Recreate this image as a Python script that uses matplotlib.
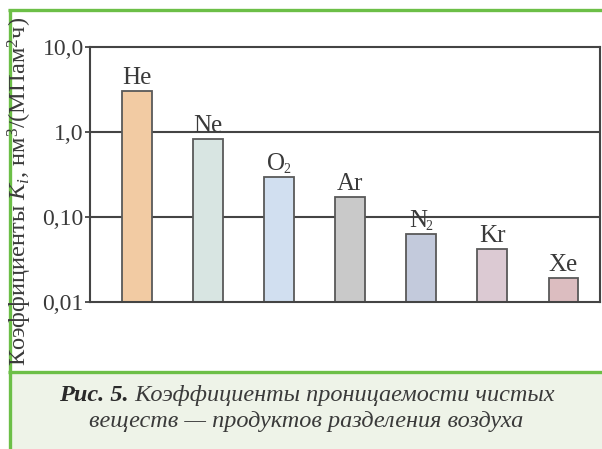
import matplotlib
matplotlib.use("Agg")
import matplotlib.pyplot as plt
from matplotlib.patches import Rectangle
from matplotlib.lines import Line2D
from matplotlib.transforms import offset_copy
import numpy as np

plt.rcParams['font.family'] = ['Liberation Serif', 'DejaVu Serif']
plt.rcParams['mathtext.fontset'] = 'custom'
plt.rcParams['mathtext.rm'] = 'Liberation Serif'
plt.rcParams['mathtext.it'] = 'Liberation Serif:italic'
plt.rcParams['mathtext.bf'] = 'Liberation Serif:bold'

# Permeability coefficients of pure gases
gases = ['He', 'Ne', 'O', 'Ar', 'N', 'Kr', 'Xe']
gas_subscripts = ['', '', '2', '', '2', '', '']
permeability = [3.05, 0.83, 0.295, 0.173, 0.063, 0.042, 0.0193]
bar_colors = ['#f2cba3', '#d8e5e2', '#d1dff0', '#c9c9c9', '#c3cadc', '#dccad3', '#dcbdc0']
ytick_values = [0.01, 0.1, 1.0, 10.0]
ytick_labels = ['0,01', '0,10', '1,0', '10,0']
ylabel = 'Коэффициенты $K_i$, нм$^3$/(МПам$^2$ч)'
caption_bold = 'Рис. 5.'
caption_line1 = ' Коэффициенты проницаемости чистых'
caption_line2 = 'веществ — продуктов разделения воздуха'

W, H = 602, 449
fig = plt.figure(figsize=(W / 100, H / 100), dpi=100)
fig.patch.set_facecolor('white')

def fx(x):
    return x / W

def fy(y):
    return 1 - y / H

green = '#6cbf47'
ink = '#3a3a3a'
line_col = '#444444'

# caption panel and green frame
fig.add_artist(Rectangle((fx(10), 0), 1, fy(372), transform=fig.transFigure,
                         facecolor='#eef3e8', edgecolor='none', zorder=0))
fig.add_artist(Line2D([fx(8), 1], [fy(10), fy(10)], transform=fig.transFigure,
                      color=green, lw=2.4, solid_capstyle='butt'))
fig.add_artist(Line2D([fx(9.5), fx(9.5)], [0, fy(9)], transform=fig.transFigure,
                      color=green, lw=2.4, solid_capstyle='butt'))
fig.add_artist(Line2D([fx(8), 1], [fy(371.5), fy(371.5)], transform=fig.transFigure,
                      color=green, lw=2.4, solid_capstyle='butt'))

ax = fig.add_axes([fx(90), fy(302), fx(600) - fx(90), fy(47) - fy(302)])
ax.set_facecolor('none')
x = np.arange(len(gases))
ax.set_yscale('log')
ax.set_ylim(0.01, 10)
ax.set_xlim(-0.661, 6.514)

for yv in [0.1, 1.0]:
    ax.axhline(yv, color=line_col, lw=1.5, zorder=1)

ax.bar(x, permeability, width=0.42, bottom=0.0001, color=bar_colors,
       edgecolor='#595959', linewidth=1.3, zorder=2)

ax.set_yticks(ytick_values)
ax.set_yticklabels(ytick_labels)
ax.yaxis.set_minor_locator(matplotlib.ticker.NullLocator())
ax.set_xticks([])
ax.tick_params(axis='y', length=3.5, width=1.3, color=line_col, pad=1,
               labelsize=17, labelcolor=ink)
for s in ax.spines.values():
    s.set_color(line_col)
    s.set_linewidth(1.5)

fig.text(fx(20), fy(191), ylabel, rotation=90, ha='center', va='center',
         fontsize=17.6, color=ink)

fig.canvas.draw()
r = fig.canvas.get_renderer()

# gas names above the bars, with small subscripts
label_size = 18
sub_size = 10
for xi, v, name, sub in zip(x, permeability, gases, gas_subscripts):
    base = ax.text(xi, v, name, ha='left', va='baseline', fontsize=label_size,
                   color=ink, zorder=3)
    wb = base.get_window_extent(r).width
    ws = 0.0
    if sub:
        tmp = ax.text(0, 0, sub, fontsize=sub_size)
        ws = tmp.get_window_extent(r).width
        tmp.remove()
    total = wb + ws
    base.set_transform(offset_copy(ax.transData, fig=fig, x=-total / 2,
                                   y=7, units='dots'))
    if sub:
        ax.text(xi, v, sub, ha='left', va='baseline', fontsize=sub_size,
                color=ink, zorder=3,
                transform=offset_copy(ax.transData, fig=fig,
                                      x=-total / 2 + wb - 1, y=4, units='dots'))

# caption
cap_size = 17.5
t_bold = fig.text(0, fy(401), caption_bold, fontsize=cap_size, fontweight='bold',
                  style='italic', color='#2a2a2a', va='baseline')
t_rest = fig.text(0, fy(401), caption_line1, fontsize=cap_size, style='italic',
                  color=ink, va='baseline')
wb = t_bold.get_window_extent(r).width
wr = t_rest.get_window_extent(r).width
x0 = 306.5 - (wb + wr) / 2
t_bold.set_x(fx(x0))
t_rest.set_x(fx(x0 + wb))
fig.text(fx(306.5), fy(427), caption_line2, fontsize=cap_size, style='italic',
         color=ink, ha='center', va='baseline')

fig.savefig('out.png', dpi=100)
